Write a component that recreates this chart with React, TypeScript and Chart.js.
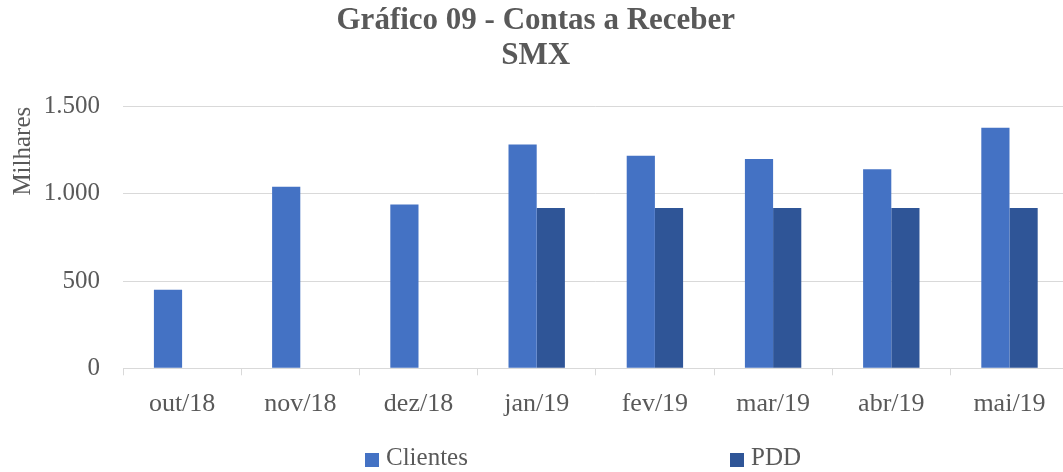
import React, { useEffect, useRef } from 'react';
import { Chart, registerables } from 'chart.js';

Chart.register(...registerables);

const categories = ['out/18', 'nov/18', 'dez/18', 'jan/19', 'fev/19', 'mar/19', 'abr/19', 'mai/19'];
const clientes = [451, 1041, 940, 1284, 1219, 1200, 1141, 1380];
const pdd = [null, null, null, 920, 920, 920, 920, 920];
const seriesNames = ['Clientes', 'PDD'];
const seriesColors = ['#4472C4', '#2F5597'];
const yTicks = [0, 500, 1000, 1500];
const titleLines = ['Gráfico 09 - Contas a Receber', 'SMX'];
const yAxisTitle = 'Milhares';

const FONT = "'Liberation Serif', 'Times New Roman', serif";
const TEXT = '#595959';
const GRID = '#d9d9d9';

const fmt = (v: number) => String(v).replace(/\B(?=(\d{3})+(?!\d))/g, '.');

const legendPlugin = {
  id: 'bottomLegend',
  afterDraw(chart: any) {
    const ctx = chart.ctx;
    const xs = [365, 730];
    const y = 460;
    ctx.save();
    ctx.font = `25px ${FONT}`;
    ctx.textBaseline = 'middle';
    ctx.textAlign = 'left';
    chart.data.datasets.forEach((ds: any, i: number) => {
      ctx.fillStyle = ds.backgroundColor;
      ctx.fillRect(xs[i], y - 7, 14, 14);
      ctx.fillStyle = TEXT;
      ctx.fillText(ds.label, xs[i] + 21, y - 1.5);
    });
    ctx.restore();
  },
};

export default function App() {
  const ref = useRef<HTMLCanvasElement>(null);

  useEffect(() => {
    document.body.style.margin = '0';
    const chart = new Chart(ref.current as HTMLCanvasElement, {
      type: 'bar',
      data: {
        labels: categories,
        datasets: [
          {
            label: seriesNames[0],
            data: clientes,
            backgroundColor: seriesColors[0],
            categoryPercentage: 0.477,
            barPercentage: 1,
            borderWidth: 0,
          },
          {
            label: seriesNames[1],
            data: pdd as any,
            backgroundColor: seriesColors[1],
            categoryPercentage: 0.477,
            barPercentage: 1,
            borderWidth: 0,
          },
        ],
      },
      options: {
        responsive: false,
        animation: false,
        layout: { padding: { left: 3, right: 3.4, top: 0, bottom: 0 } },
        plugins: {
          legend: { display: false },
          tooltip: { enabled: false },
          title: {
            display: true,
            text: titleLines,
            color: TEXT,
            font: { family: FONT, size: 31, weight: 'bold', lineHeight: 1.12 },
            padding: { top: 3.5, bottom: 33.8 },
          },
        },
        scales: {
          x: {
            grid: {
              offset: true,
              drawOnChartArea: false,
              drawTicks: true,
              tickLength: 7,
              color: GRID,
            },
            border: { display: true, color: GRID },
            ticks: { color: TEXT, font: { family: FONT, size: 26 }, padding: 13, maxRotation: 0 },
            afterFit: (s: any) => {
              s.height = 103.7;
            },
          },
          y: {
            min: 0,
            max: 1500,
            afterBuildTicks: (s: any) => {
              s.ticks = yTicks.map((v) => ({ value: v }));
            },
            ticks: {
              padding: 23,
              color: TEXT,
              font: { family: FONT, size: 25 },
              callback: (v: any) => fmt(Number(v)),
            },
            grid: { color: GRID, drawTicks: false, lineWidth: 1 },
            border: { display: false },
            title: {
              display: true,
              text: yAxisTitle,
              align: 'end',
              color: TEXT,
              font: { family: FONT, size: 25 },
              padding: { top: 5, bottom: 0 },
            },
            afterFit: (s: any) => {
              s.width = 120;
            },
          },
        },
      },
      plugins: [legendPlugin],
    } as any);
    return () => chart.destroy();
  }, []);

  return (
    <div style={{ width: 1063, height: 472, overflow: 'hidden', position: 'relative', background: '#fff' }}>
      <canvas ref={ref} width={1072} height={472} style={{ display: 'block' }} />
    </div>
  );
}
